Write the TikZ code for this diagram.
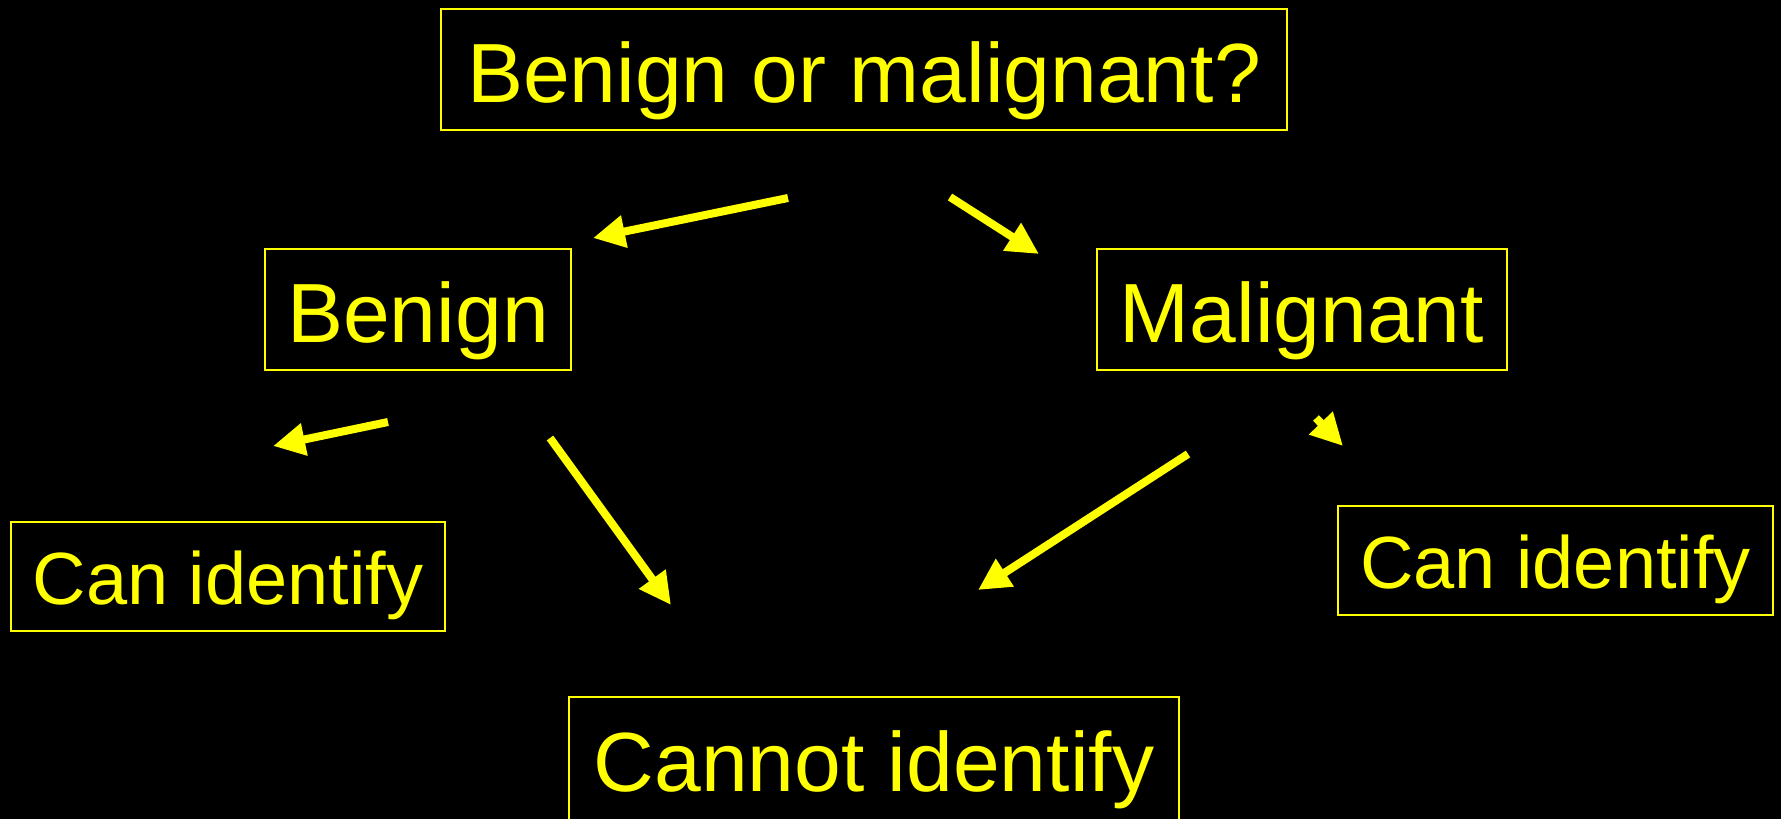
\documentclass[tikz,border=0pt]{standalone}
\usepackage{fontspec}
\setmainfont{Liberation Sans}
\usetikzlibrary{arrows.meta}
\definecolor{yel}{RGB}{255,255,0}
\begin{document}
\begin{tikzpicture}[x=1pt,y=-1pt,
  box/.style={draw=yel, line width=2pt, text=yel, inner sep=0pt, text depth=0pt},
  big/.style={box, font=\fontsize{84}{100}\selectfont, text height=65pt},
  small/.style={box, font=\fontsize{74}{88}\selectfont, text height=56pt},
  arr/.style={draw=yel, line width=8pt, -{Triangle[length=32pt,width=31pt]}}]
\fill[black] (0,0) rectangle (1781,819);
\useasboundingbox (0,0) rectangle (1781,819);

\node[big, minimum width=846pt, minimum height=121pt] (top) at (864,69.5) {Benign or malignant?};
\node[big, minimum width=306pt, minimum height=121pt] (benign) at (418,309.5) {Benign};
\node[big, minimum width=410pt, minimum height=121pt] (malignant) at (1302,309.5) {Malignant};
\node[big, minimum width=610pt, minimum height=124pt] (cannot) at (874,759) {Cannot identify};
\node[small, minimum width=434pt, minimum height=109pt] (canL) at (228,576.5) {Can identify};
\node[small, minimum width=435pt, minimum height=109pt] (canR) at (1555.5,560.5) {Can identify};

\coordinate (a1s) at (788,198); \coordinate (a1e) at (593,238);
\coordinate (a2s) at (950,197); \coordinate (a2e) at (1039,254);
\coordinate (a3s) at (388,422); \coordinate (a3e) at (273,446);
\coordinate (a4s) at (550,438); \coordinate (a4e) at (671,605);
\coordinate (a5s) at (1188,454); \coordinate (a5e) at (978,590);
\coordinate (a6s) at (1316,418); \coordinate (a6e) at (1343,446);

\draw[arr] (a1s) -- (a1e);
\draw[arr] (a2s) -- (a2e);
\draw[arr] (a3s) -- (a3e);
\draw[arr] (a4s) -- (a4e);
\draw[arr] (a5s) -- (a5e);
\draw[arr] (a6s) -- (a6e);
\end{tikzpicture}
\end{document}
